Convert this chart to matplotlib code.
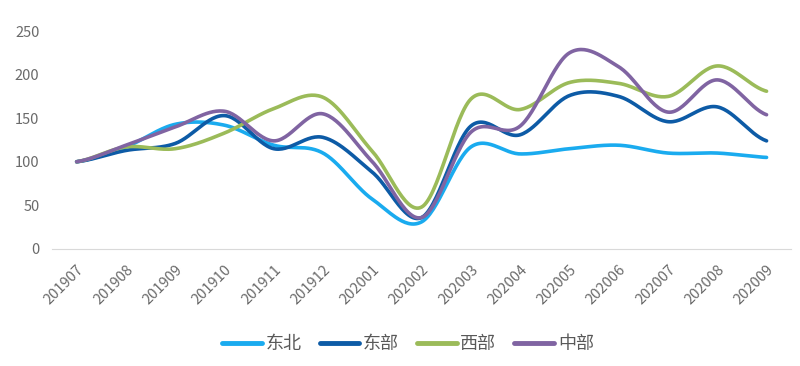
import matplotlib
matplotlib.use("Agg")
import matplotlib.pyplot as plt
import numpy as np

plt.rcParams['font.family'] = ['Noto Sans CJK SC', 'DejaVu Sans']

# 月份
meses = ["201907", "201908", "201909", "201910", "201911", "201912", "202001",
         "202002", "202003", "202004", "202005", "202006", "202007", "202008", "202009"]

# 各地区指数
dongbei = [100, 117, 143, 142, 119, 110, 57, 31, 117, 109, 115, 119, 110, 110, 105]
dongbu = [100, 113, 121, 153, 115, 128, 88, 36, 141, 131, 176, 175, 146, 163, 124]
xibu = [100, 117, 115, 133, 161, 174, 112, 48, 172, 160, 191, 190, 175, 210, 181]
zhongbu = [100, 119, 140, 158, 124, 155, 100, 36, 134, 141, 225, 209, 157, 194, 154]

series = [("东北", dongbei, "#1AABEF"), ("东部", dongbu, "#0D5BA6"),
          ("西部", xibu, "#9BBB59"), ("中部", zhongbu, "#8064A2")]


def suavizar(y, n=30):
    # curva Catmull-Rom, parecida a la línea suavizada de Excel
    y = np.asarray(y, dtype=float)
    p = np.concatenate([[y[0]], y, [y[-1]]])
    xs, ys = [], []
    t = np.linspace(0, 1, n, endpoint=False)
    for i in range(len(y) - 1):
        p0, p1, p2, p3 = p[i], p[i + 1], p[i + 2], p[i + 3]
        yy = 0.5 * ((2 * p1) + (-p0 + p2) * t + (2 * p0 - 5 * p1 + 4 * p2 - p3) * t ** 2
                    + (-p0 + 3 * p1 - 3 * p2 + p3) * t ** 3)
        xs.append(i + t)
        ys.append(yy)
    xs.append([len(y) - 1])
    ys.append([y[-1]])
    return np.concatenate(xs), np.concatenate(ys)


fig = plt.figure(figsize=(8, 3.66), dpi=100)
ax = fig.add_axes([0.065, 0.32, 0.924, 0.595])

for nombre, vals, color in series:
    xs, ys = suavizar(vals)
    ax.plot(xs, ys, color=color, lw=2.6, label=nombre, solid_capstyle='round')

ax.set_xlim(-0.5, len(meses) - 0.5)
ax.set_ylim(0, 250)
ax.set_yticks(range(0, 251, 50))
ax.set_xticks(range(len(meses)))
ax.set_xticklabels(meses, rotation=45, ha='right', va='top', rotation_mode='anchor')
ax.tick_params(axis='both', length=0, labelsize=10.5, labelcolor='#6A6A6A')
ax.tick_params(axis='x', pad=10)
ax.tick_params(axis='y', pad=9)
for s in ['top', 'right', 'left']:
    ax.spines[s].set_visible(False)
ax.spines['bottom'].set_color('#D9D9D9')

leg = fig.legend(loc='lower center', bbox_to_anchor=(0.51, -0.01), ncol=4, frameon=False,
                 fontsize=13, handlelength=2.2, handletextpad=0.2, columnspacing=1.0)
for t in leg.get_texts():
    t.set_color('#595959')
for h in leg.get_lines():
    h.set_linewidth(3.5)

fig.savefig("out.png", dpi=100)
